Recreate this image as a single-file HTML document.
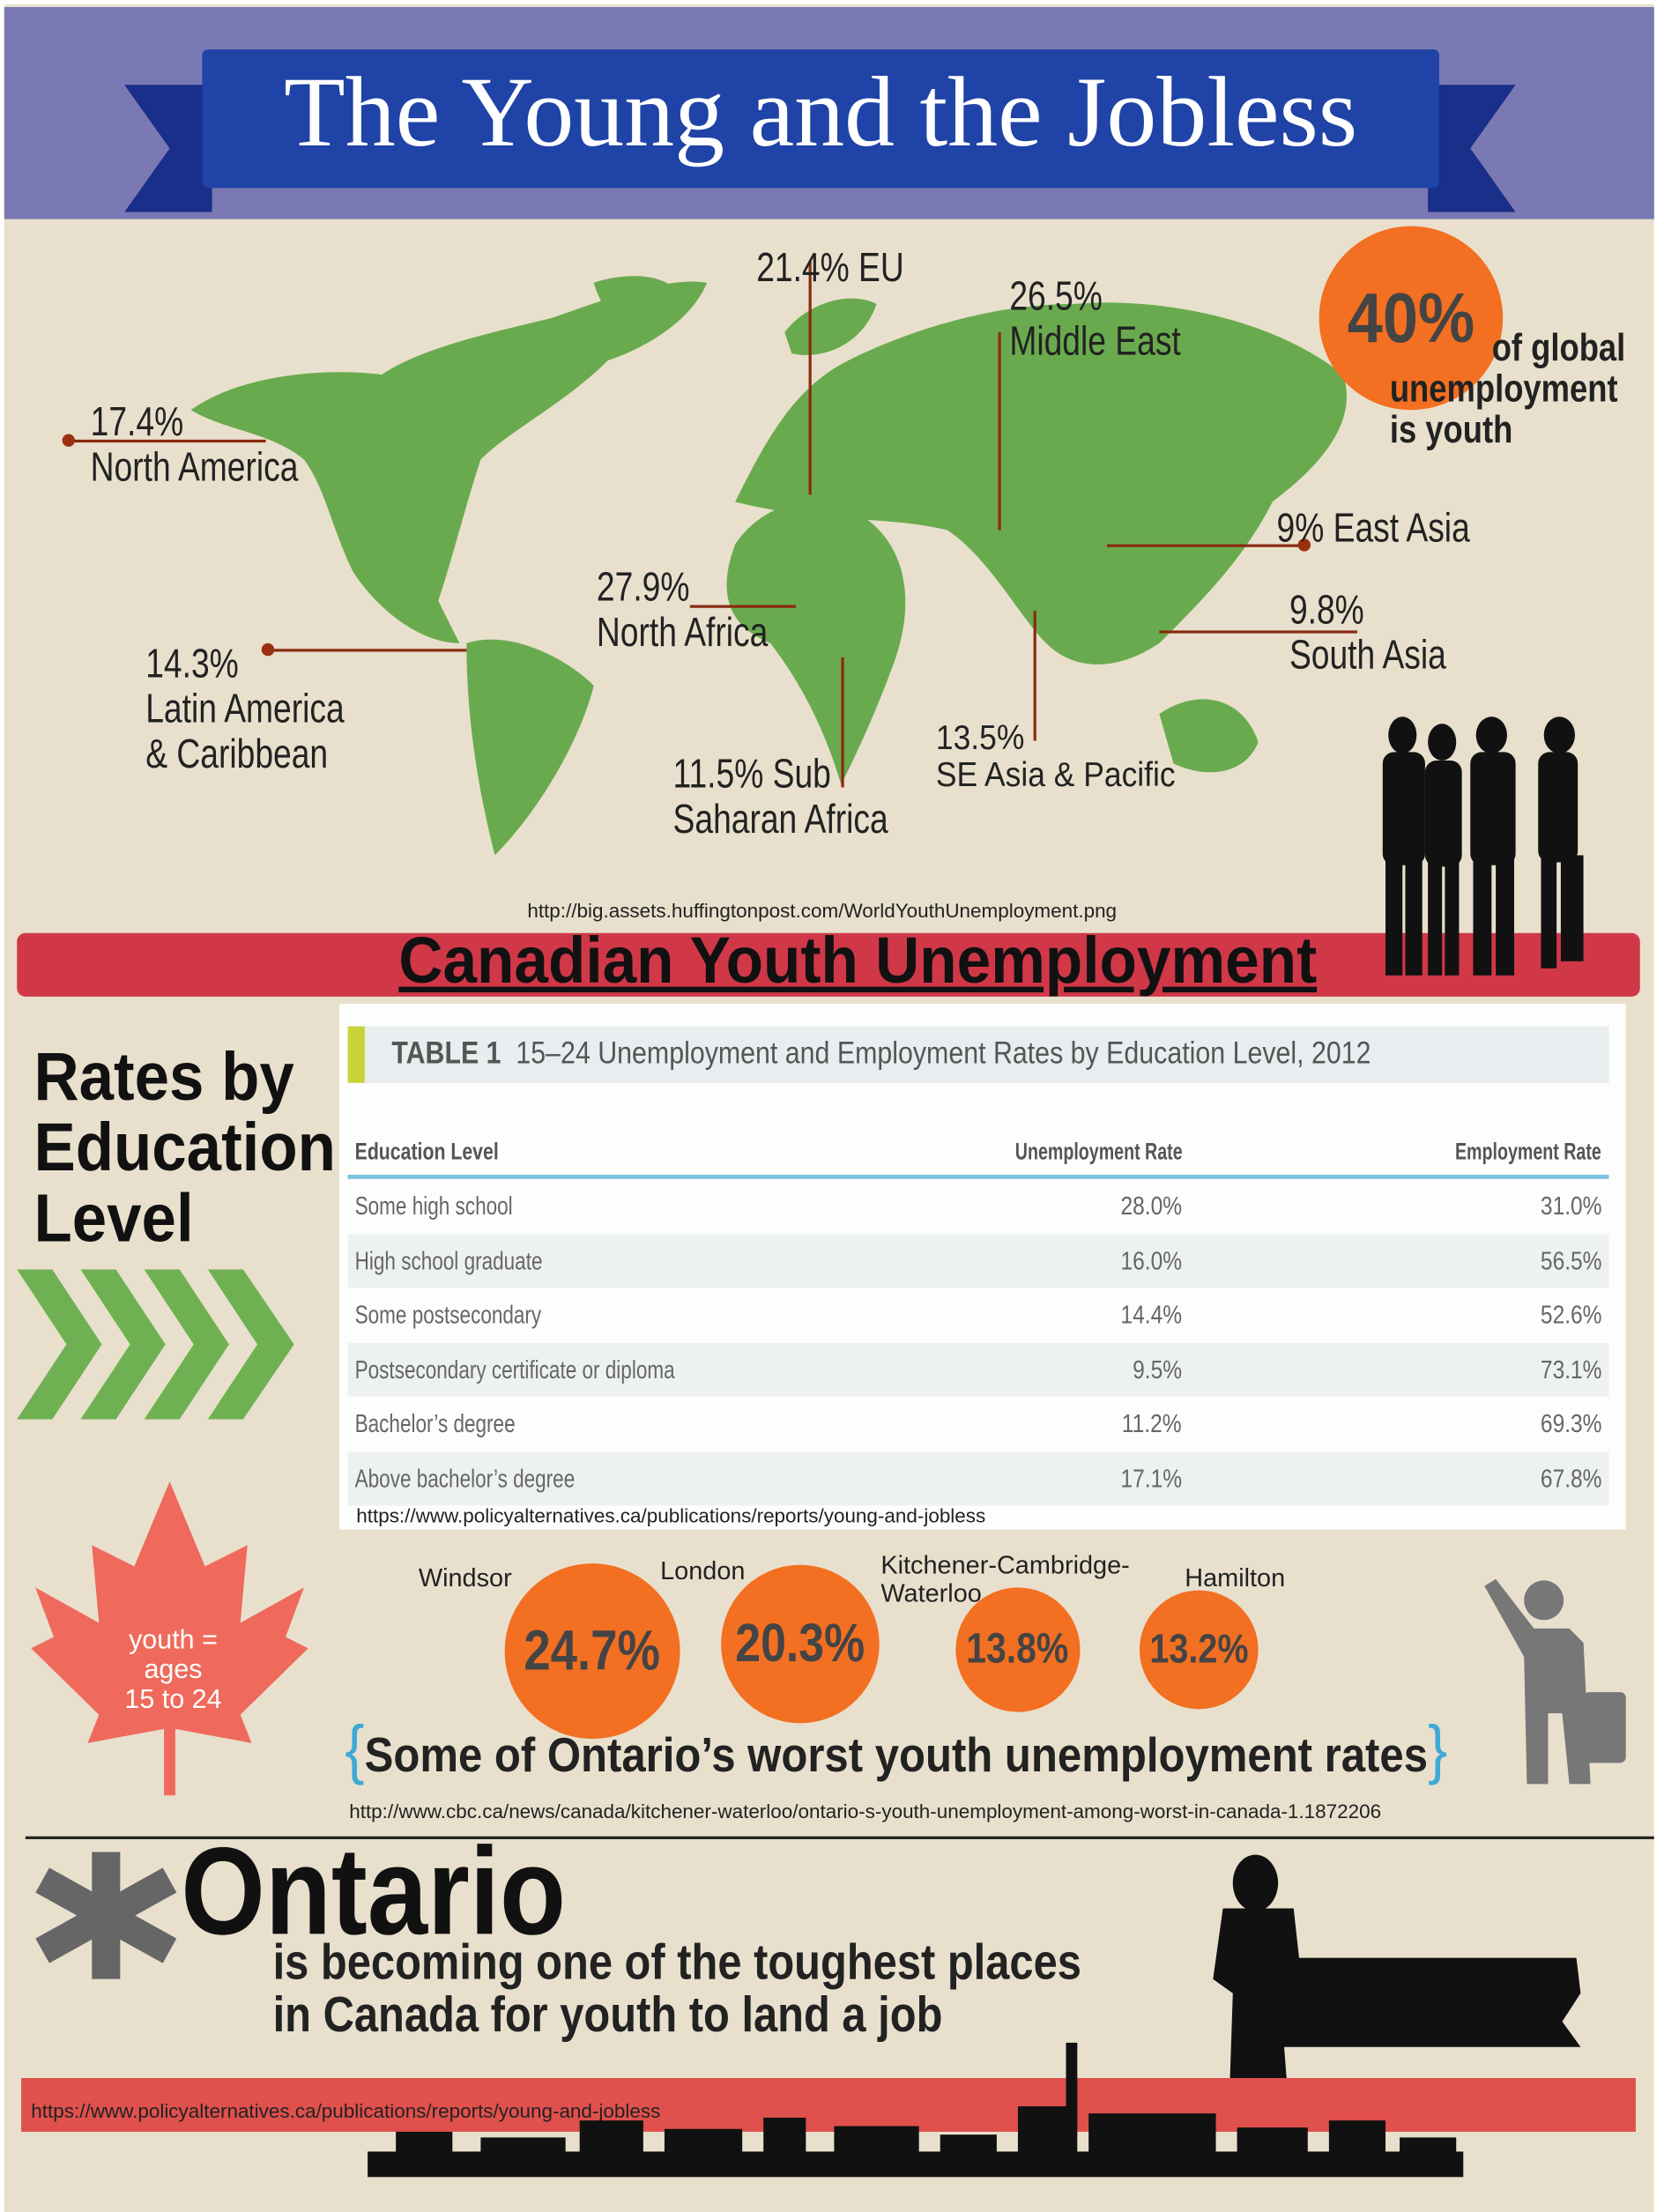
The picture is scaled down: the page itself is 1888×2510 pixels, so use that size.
<!DOCTYPE html>
<html><head><meta charset="utf-8"><style>
html,body{margin:0;padding:0;background:#fff;}
body{width:1888px;height:2505px;overflow:hidden;position:relative;}
#w{position:absolute;left:0;top:0;width:1177px;height:1562px;transform:scale(1.6041);transform-origin:0 0;font-family:"Liberation Sans",sans-serif;}
.a{position:absolute;}
.c{transform:scaleX(.8);transform-origin:0 0;white-space:nowrap;}
.lbl{position:absolute;font-size:29px;color:#222;line-height:32px;transform:scaleX(.8);transform-origin:0 0;white-space:nowrap;}
.ln{position:absolute;background:#8a2a10;}
.dot{position:absolute;width:9px;height:9px;border-radius:50%;background:#9a3010;}
.circ{position:absolute;border-radius:50%;background:#f36f21;color:#444;font-weight:bold;text-align:center;}
.circ span{display:inline-block;transform:scaleX(.85);}
.city{position:absolute;font-size:18px;color:#222;}
.row{position:relative;height:38.5px;}
.row span{position:absolute;top:9px;}
.l{left:5px;transform:scaleX(.78);transform-origin:0 0;white-space:nowrap;}
.m{right:302px;transform:scaleX(.85);transform-origin:100% 0;}
.r{right:5px;transform:scaleX(.85);transform-origin:100% 0;}
</style></head><body><div id="w">
<div class="a" style="left:3px;top:3px;width:1167px;height:1562px;background:#e8e0cd;"></div>
<div class="a" style="left:3px;top:5px;width:1167px;height:150px;background:#7b79b3;"></div>
<svg class="a" style="left:0;top:0" width="1177" height="160">
<polygon points="88,60 150,60 150,150 88,150 120,105" fill="#1a2f8a"/>
<polygon points="1010,60 1072,60 1040,105 1072,150 1010,150" fill="#1a2f8a"/>
<rect x="143" y="35" width="875" height="98" rx="4" fill="#1f43a6"/>
</svg>
<div class="a" style="left:143px;top:38px;width:875px;text-align:center;font-family:'Liberation Serif',serif;font-size:71px;color:#fff;line-height:85px;">The Young and the Jobless</div>
<svg class="a" style="left:0;top:155px" width="1177" height="500">
<g fill="#6aaa4e">
<path d="M135,135 C170,110 230,105 270,110 C300,90 350,80 390,70 C420,60 470,40 500,45 C490,70 460,90 430,100 C400,130 360,150 340,170 C330,200 320,240 310,270 L325,300 C300,300 270,280 250,250 C235,220 230,190 215,170 C190,150 160,150 135,135 Z"/>
<path d="M330,300 C360,290 400,310 420,330 C410,370 380,420 350,450 C340,410 330,360 330,300 Z"/>
<path d="M520,230 C540,200 580,190 610,210 C640,230 650,270 630,320 C615,360 600,390 595,400 C580,350 560,320 545,300 C520,290 505,270 520,230 Z"/>
<path d="M520,200 C540,160 560,120 600,100 C640,80 700,60 760,60 C820,55 900,70 950,110 C960,140 940,170 900,200 C880,240 850,270 820,300 C790,320 760,320 740,300 C720,280 700,240 670,220 C630,210 580,215 520,200 Z"/>
<path d="M820,350 C850,330 880,340 890,370 C880,395 850,395 830,385 Z"/>
<path d="M555,80 C570,60 600,50 620,60 C610,90 580,100 560,95 Z"/>
<path d="M420,45 C450,35 490,40 480,70 C460,90 430,80 420,45 Z"/>
</g></svg>
<div class="ln" style="left:48px;top:311px;width:140px;height:2px;"></div><div class="dot" style="left:44px;top:307px;"></div>
<div class="lbl" style="left:64px;top:283px;">17.4%<br>North America</div>
<div class="ln" style="left:190px;top:459px;width:140px;height:2px;"></div><div class="dot" style="left:185px;top:455px;"></div>
<div class="lbl" style="left:103px;top:454px;">14.3%<br>Latin America<br>&amp; Caribbean</div>
<div class="ln" style="left:572px;top:185px;width:2px;height:165px;"></div>
<div class="lbl" style="left:535px;top:174px;">21.4% EU</div>
<div class="ln" style="left:706px;top:235px;width:2px;height:140px;"></div>
<div class="lbl" style="left:714px;top:194px;">26.5%<br>Middle East</div>
<div class="ln" style="left:488px;top:428px;width:75px;height:2px;"></div>
<div class="lbl" style="left:422px;top:400px;">27.9%<br>North Africa</div>
<div class="ln" style="left:595px;top:465px;width:2px;height:92px;"></div>
<div class="lbl" style="left:476px;top:532px;">11.5% Sub<br>Saharan Africa</div>
<div class="ln" style="left:731px;top:432px;width:2px;height:92px;"></div>
<div class="lbl" style="left:662px;top:510px;font-size:24px;line-height:26px;transform:scaleX(.92);">13.5%<br>SE Asia &amp; Pacific</div>
<div class="ln" style="left:783px;top:385px;width:140px;height:2px;"></div><div class="dot" style="left:918px;top:381px;"></div>
<div class="lbl" style="left:903px;top:358px;">9% East Asia</div>
<div class="ln" style="left:820px;top:446px;width:140px;height:2px;"></div>
<div class="lbl" style="left:912px;top:416px;">9.8%<br>South Asia</div>
<div class="circ" style="left:933px;top:160px;width:130px;height:130px;font-size:50px;line-height:130px;"><span style="transform:scaleX(.9)">40%</span></div>
<div class="a c" style="left:983px;top:232px;font-size:27px;font-weight:bold;line-height:29px;color:#222;transform:scaleX(.84);"><span style="margin-left:86px">of global</span><br>unemployment<br>is youth</div>
<div class="a" style="left:373px;top:636px;font-size:14px;color:#222;">http://big.assets.huffingtonpost.com/WorldYouthUnemployment.png</div>
<div class="a" style="left:12px;top:660px;width:1148px;height:45px;background:#d03848;border-radius:6px;"></div>
<div class="a c" style="left:282px;top:652px;font-size:46px;font-weight:bold;color:#111;text-decoration:underline;transform:scaleX(.94);">Canadian Youth Unemployment</div>
<svg class="a" style="left:970px;top:500px" width="165" height="200"><g fill="#111">
<ellipse cx="22" cy="20" rx="10" ry="13"/><rect x="8" y="32" width="30" height="80" rx="8"/><rect x="10" y="105" width="12" height="85"/><rect x="24" y="105" width="12" height="85"/>
<ellipse cx="50" cy="25" rx="10" ry="13"/><rect x="38" y="38" width="26" height="75" rx="8"/><rect x="40" y="108" width="10" height="82"/><rect x="52" y="108" width="10" height="82"/>
<ellipse cx="85" cy="20" rx="11" ry="13"/><rect x="70" y="32" width="32" height="80" rx="8"/><rect x="72" y="105" width="13" height="85"/><rect x="88" y="105" width="13" height="85"/>
<ellipse cx="133" cy="20" rx="11" ry="13"/><rect x="118" y="32" width="28" height="78" rx="8"/><rect x="120" y="105" width="11" height="80"/><rect x="134" y="105" width="16" height="75"/>
</g></svg>
<div class="a c" style="left:24px;top:738px;font-size:48px;font-weight:bold;line-height:50px;color:#111;transform:scaleX(.92);">Rates by<br>Education<br>Level</div>
<svg class="a" style="left:12px;top:898px" width="200" height="106"><g fill="#6fb152">
<polygon points="0,0 25,0 60,53 25,106 0,106 35,53"/>
<polygon points="45,0 70,0 105,53 70,106 45,106 80,53"/>
<polygon points="90,0 115,0 150,53 115,106 90,106 125,53"/>
<polygon points="135,0 160,0 196,53 160,106 135,106 170,53"/></g></svg>
<div class="a" style="left:240px;top:710px;width:910px;height:372px;background:#fdfdfc;"></div>
<div class="a" style="left:246px;top:726px;width:892px;height:40px;background:#e8edef;"></div>
<div class="a" style="left:246px;top:726px;width:12px;height:40px;background:#c7d437;"></div>
<div class="a c" style="left:277px;top:732px;font-size:22px;color:#555;transform:scaleX(.86);"><b>TABLE 1</b>&nbsp; 15–24 Unemployment and Employment Rates by Education Level, 2012</div>
<div class="a" style="left:246px;top:805px;width:892px;font-size:17px;color:#555;font-weight:bold;">
<div class="row" style="height:20px"><span class="l" style="top:0">Education Level</span><span class="m" style="top:0;transform:scaleX(.72)">Unemployment Rate</span><span class="r" style="top:0;transform:scaleX(.72)">Employment Rate</span></div></div>
<div class="a" style="left:246px;top:831px;width:892px;height:3px;background:#7cc3e0;"></div>
<div class="a" style="left:246px;top:834px;width:892px;font-size:18px;color:#666;">
<div class="row"><span class="l">Some high school</span><span class="m">28.0%</span><span class="r">31.0%</span></div>
<div class="row" style="background:#eef1f2"><span class="l">High school graduate</span><span class="m">16.0%</span><span class="r">56.5%</span></div>
<div class="row"><span class="l">Some postsecondary</span><span class="m">14.4%</span><span class="r">52.6%</span></div>
<div class="row" style="background:#eef1f2"><span class="l">Postsecondary certificate or diploma</span><span class="m">9.5%</span><span class="r">73.1%</span></div>
<div class="row"><span class="l">Bachelor’s degree</span><span class="m">11.2%</span><span class="r">69.3%</span></div>
<div class="row" style="background:#eef1f2"><span class="l">Above bachelor’s degree</span><span class="m">17.1%</span><span class="r">67.8%</span></div>
</div>
<div class="a" style="left:252px;top:1064px;font-size:14px;color:#222;">https://www.policyalternatives.ca/publications/reports/young-and-jobless</div>
<svg class="a" style="left:20px;top:1048px" width="200" height="225"><path fill="#ef6a5c" d="M100,0 L125,60 L155,45 L150,100 L195,75 L182,110 L198,118 L150,165 L158,185 L104,175 L104,222 L96,222 L96,175 L42,185 L50,165 L2,118 L18,110 L5,75 L50,100 L45,45 L75,60 Z"/></svg>
<div class="a" style="left:70px;top:1150px;width:105px;text-align:center;font-size:19px;color:#fff;line-height:21px;">youth =<br>ages<br>15 to 24</div>
<div class="city" style="left:296px;top:1106px;">Windsor</div>
<div class="city" style="left:467px;top:1101px;">London</div>
<div class="city" style="left:623px;top:1097px;line-height:20px;">Kitchener-Cambridge-<br>Waterloo</div>
<div class="city" style="left:838px;top:1106px;">Hamilton</div>
<div class="circ" style="left:357px;top:1106px;width:124px;height:124px;font-size:40px;line-height:124px;"><span>24.7%</span></div>
<div class="circ" style="left:510px;top:1107px;width:112px;height:112px;font-size:38px;line-height:112px;"><span>20.3%</span></div>
<div class="circ" style="left:676px;top:1123px;width:88px;height:88px;font-size:30px;line-height:88px;"><span>13.8%</span></div>
<div class="circ" style="left:806px;top:1125px;width:84px;height:84px;font-size:29px;line-height:84px;"><span>13.2%</span></div>
<div class="a c" style="left:244px;top:1210px;font-size:34px;font-weight:bold;color:#222;transform:scaleX(.9);"><span style="color:#3fa9d6;font-size:46px;font-weight:normal">{</span>Some of Ontario’s worst youth unemployment rates<span style="color:#3fa9d6;font-size:46px;font-weight:normal">}</span></div>
<div class="a" style="left:247px;top:1273px;font-size:14px;color:#222;">http://www.cbc.ca/news/canada/kitchener-waterloo/ontario-s-youth-unemployment-among-worst-in-canada-1.1872206</div>
<svg class="a" style="left:1040px;top:1112px" width="115" height="155"><g fill="#777">
<circle cx="52" cy="20" r="14"/><path d="M10,10 L18,5 L45,40 L70,40 L80,50 L85,150 L70,150 L65,100 L55,100 L55,150 L40,150 L38,60 Z"/>
<rect x="80" y="85" width="30" height="50" rx="4"/></g></svg>
<div class="a" style="left:18px;top:1299px;width:1152px;height:2px;background:#222;"></div>
<svg class="a" style="left:25px;top:1310px" width="100" height="90"><g stroke="#666" stroke-width="20"><line x1="50" y1="0" x2="50" y2="90"/><line x1="5" y1="20" x2="95" y2="70"/><line x1="95" y1="20" x2="5" y2="70"/></g></svg>
<div class="a c" style="left:128px;top:1290px;font-size:88px;font-weight:bold;color:#111;line-height:96px;transform:scaleX(.87);">Ontario</div>
<div class="a c" style="left:193px;top:1370px;font-size:35px;font-weight:bold;color:#222;line-height:37px;transform:scaleX(.87);">is becoming one of the toughest places<br>in Canada for youth to land a job</div>
<svg class="a" style="left:850px;top:1310px" width="275" height="165"><g fill="#111">
<ellipse cx="38" cy="22" rx="16" ry="20"/><path d="M15,40 L65,40 L70,85 L55,95 L60,160 L20,160 L22,100 L8,90 Z"/>
<polygon points="40,75 265,75 268,100 255,120 268,138 45,138"/></g></svg>
<div class="a" style="left:15px;top:1470px;width:1142px;height:38px;background:#e0504c;"></div>
<div class="a" style="left:22px;top:1485px;font-size:14px;color:#222;">https://www.policyalternatives.ca/publications/reports/young-and-jobless</div>
<svg class="a" style="left:260px;top:1440px" width="780" height="110"><g fill="#111">
<rect x="0" y="82" width="775" height="18"/>
<rect x="20" y="68" width="40" height="20"/><rect x="80" y="72" width="60" height="15"/><rect x="150" y="60" width="45" height="30"/>
<rect x="210" y="66" width="55" height="22"/><rect x="280" y="58" width="30" height="30"/><rect x="330" y="64" width="60" height="24"/>
<rect x="405" y="70" width="40" height="18"/><rect x="460" y="50" width="35" height="40"/><rect x="494" y="5" width="8" height="80"/>
<rect x="510" y="55" width="90" height="35"/><rect x="615" y="65" width="50" height="25"/><rect x="680" y="60" width="40" height="30"/><rect x="730" y="72" width="40" height="18"/>
</g></svg>
</div></body></html>
